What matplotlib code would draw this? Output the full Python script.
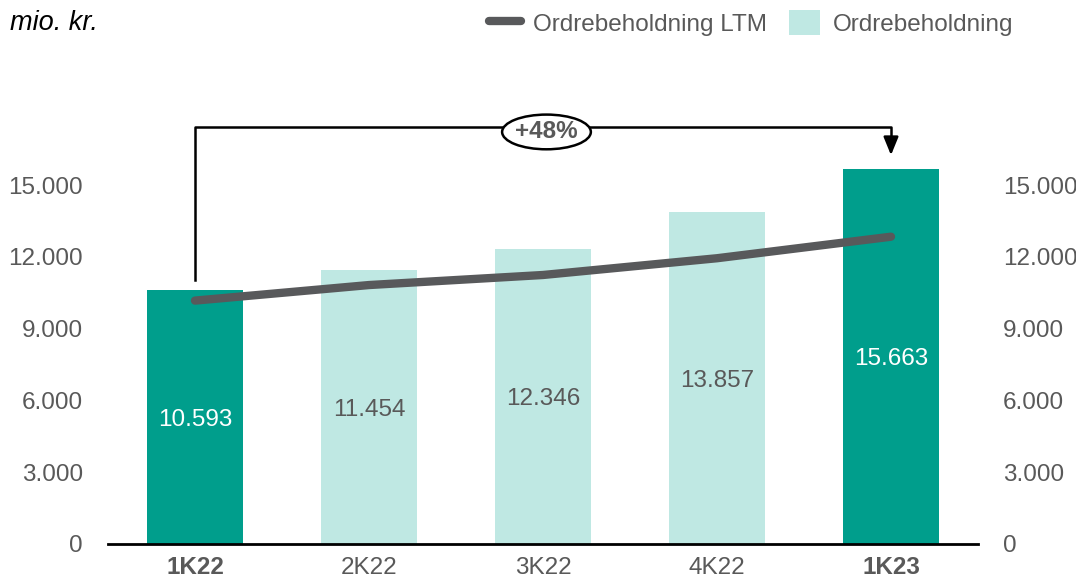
import matplotlib.pyplot as plt
from matplotlib.patches import Ellipse, Patch
from matplotlib.lines import Line2D

plt.rcParams['font.family'] = ['Liberation Sans', 'DejaVu Sans']

# Data
kvartaler = ['1K22', '2K22', '3K22', '4K22', '1K23']
ordrebeholdning = [10593, 11454, 12346, 13857, 15663]
ordrebeholdning_ltm = [10170, 10820, 11240, 11940, 12840]
fremhaevet = [True, False, False, False, True]

MORK = '#009E8C'
LYS = '#BFE8E3'
LINJE = '#58595B'
TEKST = '#595959'
FS = 17.5

fig = plt.figure(figsize=(10.76, 5.8), dpi=100)
ax = fig.add_axes([108 / 1076, 36 / 580, 870 / 1076, 430.8 / 580])

x = list(range(len(kvartaler)))
farver = [MORK if f else LYS for f in fremhaevet]
ax.bar(x, ordrebeholdning, width=0.55, color=farver, zorder=2)
ax.plot(x, ordrebeholdning_ltm, color=LINJE, lw=6, solid_capstyle='round', zorder=3)

# værdier midt i søjlerne (lidt under midten som i originalen)
for xi, v, f in zip(x, ordrebeholdning, fremhaevet):
    ax.text(xi, v / 2 - 120, f'{v:,}'.replace(',', '.'), ha='center', va='center',
            fontsize=FS, color='white' if f else TEKST, zorder=4)

ax.set_xlim(-0.5, 4.5)
ax.set_ylim(0, 18000)
yticks = [0, 3000, 6000, 9000, 12000, 15000]
ytl = [f'{t:,}'.replace(',', '.') for t in yticks]
ax.set_yticks(yticks)
ax.set_yticklabels(ytl)
ax.set_xticks(x)
ax.set_xticklabels(kvartaler)
for lbl, f in zip(ax.get_xticklabels(), fremhaevet):
    if f:
        lbl.set_fontweight('bold')
ax.tick_params(axis='x', length=0, pad=9, labelsize=FS, labelcolor=TEKST)
ax.tick_params(axis='y', length=0, pad=18, labelsize=FS, labelcolor=TEKST)
for s in ['top', 'right', 'left']:
    ax.spines[s].set_visible(False)
ax.spines['bottom'].set_linewidth(2)
ax.spines['bottom'].set_color('black')

ax2 = ax.twinx()
ax2.set_ylim(ax.get_ylim())
ax2.set_yticks(yticks)
ax2.set_yticklabels(ytl)
ax2.tick_params(axis='y', length=0, pad=18, labelsize=FS, labelcolor=TEKST)
for s in ['top', 'right', 'left', 'bottom']:
    ax2.spines[s].set_visible(False)

# Vækst-annotation
top = 17425
ax.plot([0, 0, 4, 4], [11050, top, top, 16700], color='black', lw=1.8, zorder=5, clip_on=False)
ax.annotate('', xy=(4, 16130), xytext=(4, 16800),
            arrowprops=dict(arrowstyle='-|>,head_width=0.45,head_length=1.1', color='black', lw=1.8),
            zorder=5, annotation_clip=False)
ax.add_patch(Ellipse((2.02, 17217), 0.51, 1450, facecolor='white', edgecolor='black', lw=1.8,
                     zorder=6, clip_on=False))
ax.text(2.02, 17217, '+48%', ha='center', va='center', fontsize=FS, fontweight='bold',
        color=TEKST, zorder=7)

fig.text(10 / 1076, 1 - 23 / 580, 'mio. kr.', ha='left', va='center', fontsize=19.5,
         style='italic', color='black')

handles = [Line2D([0], [0], color=LINJE, lw=6, solid_capstyle='round'),
           Patch(facecolor=LYS, edgecolor='none')]
fig.legend(handles, ['Ordrebeholdning LTM', 'Ordrebeholdning'], loc='center',
           bbox_to_anchor=(751 / 1076, 1 - 23 / 580), ncol=2, frameon=False,
           fontsize=FS, labelcolor=TEKST, handlelength=1.3, handleheight=1.2,
           handletextpad=0.5, columnspacing=0.9)

fig.savefig('out.png', dpi=100, facecolor='white')
